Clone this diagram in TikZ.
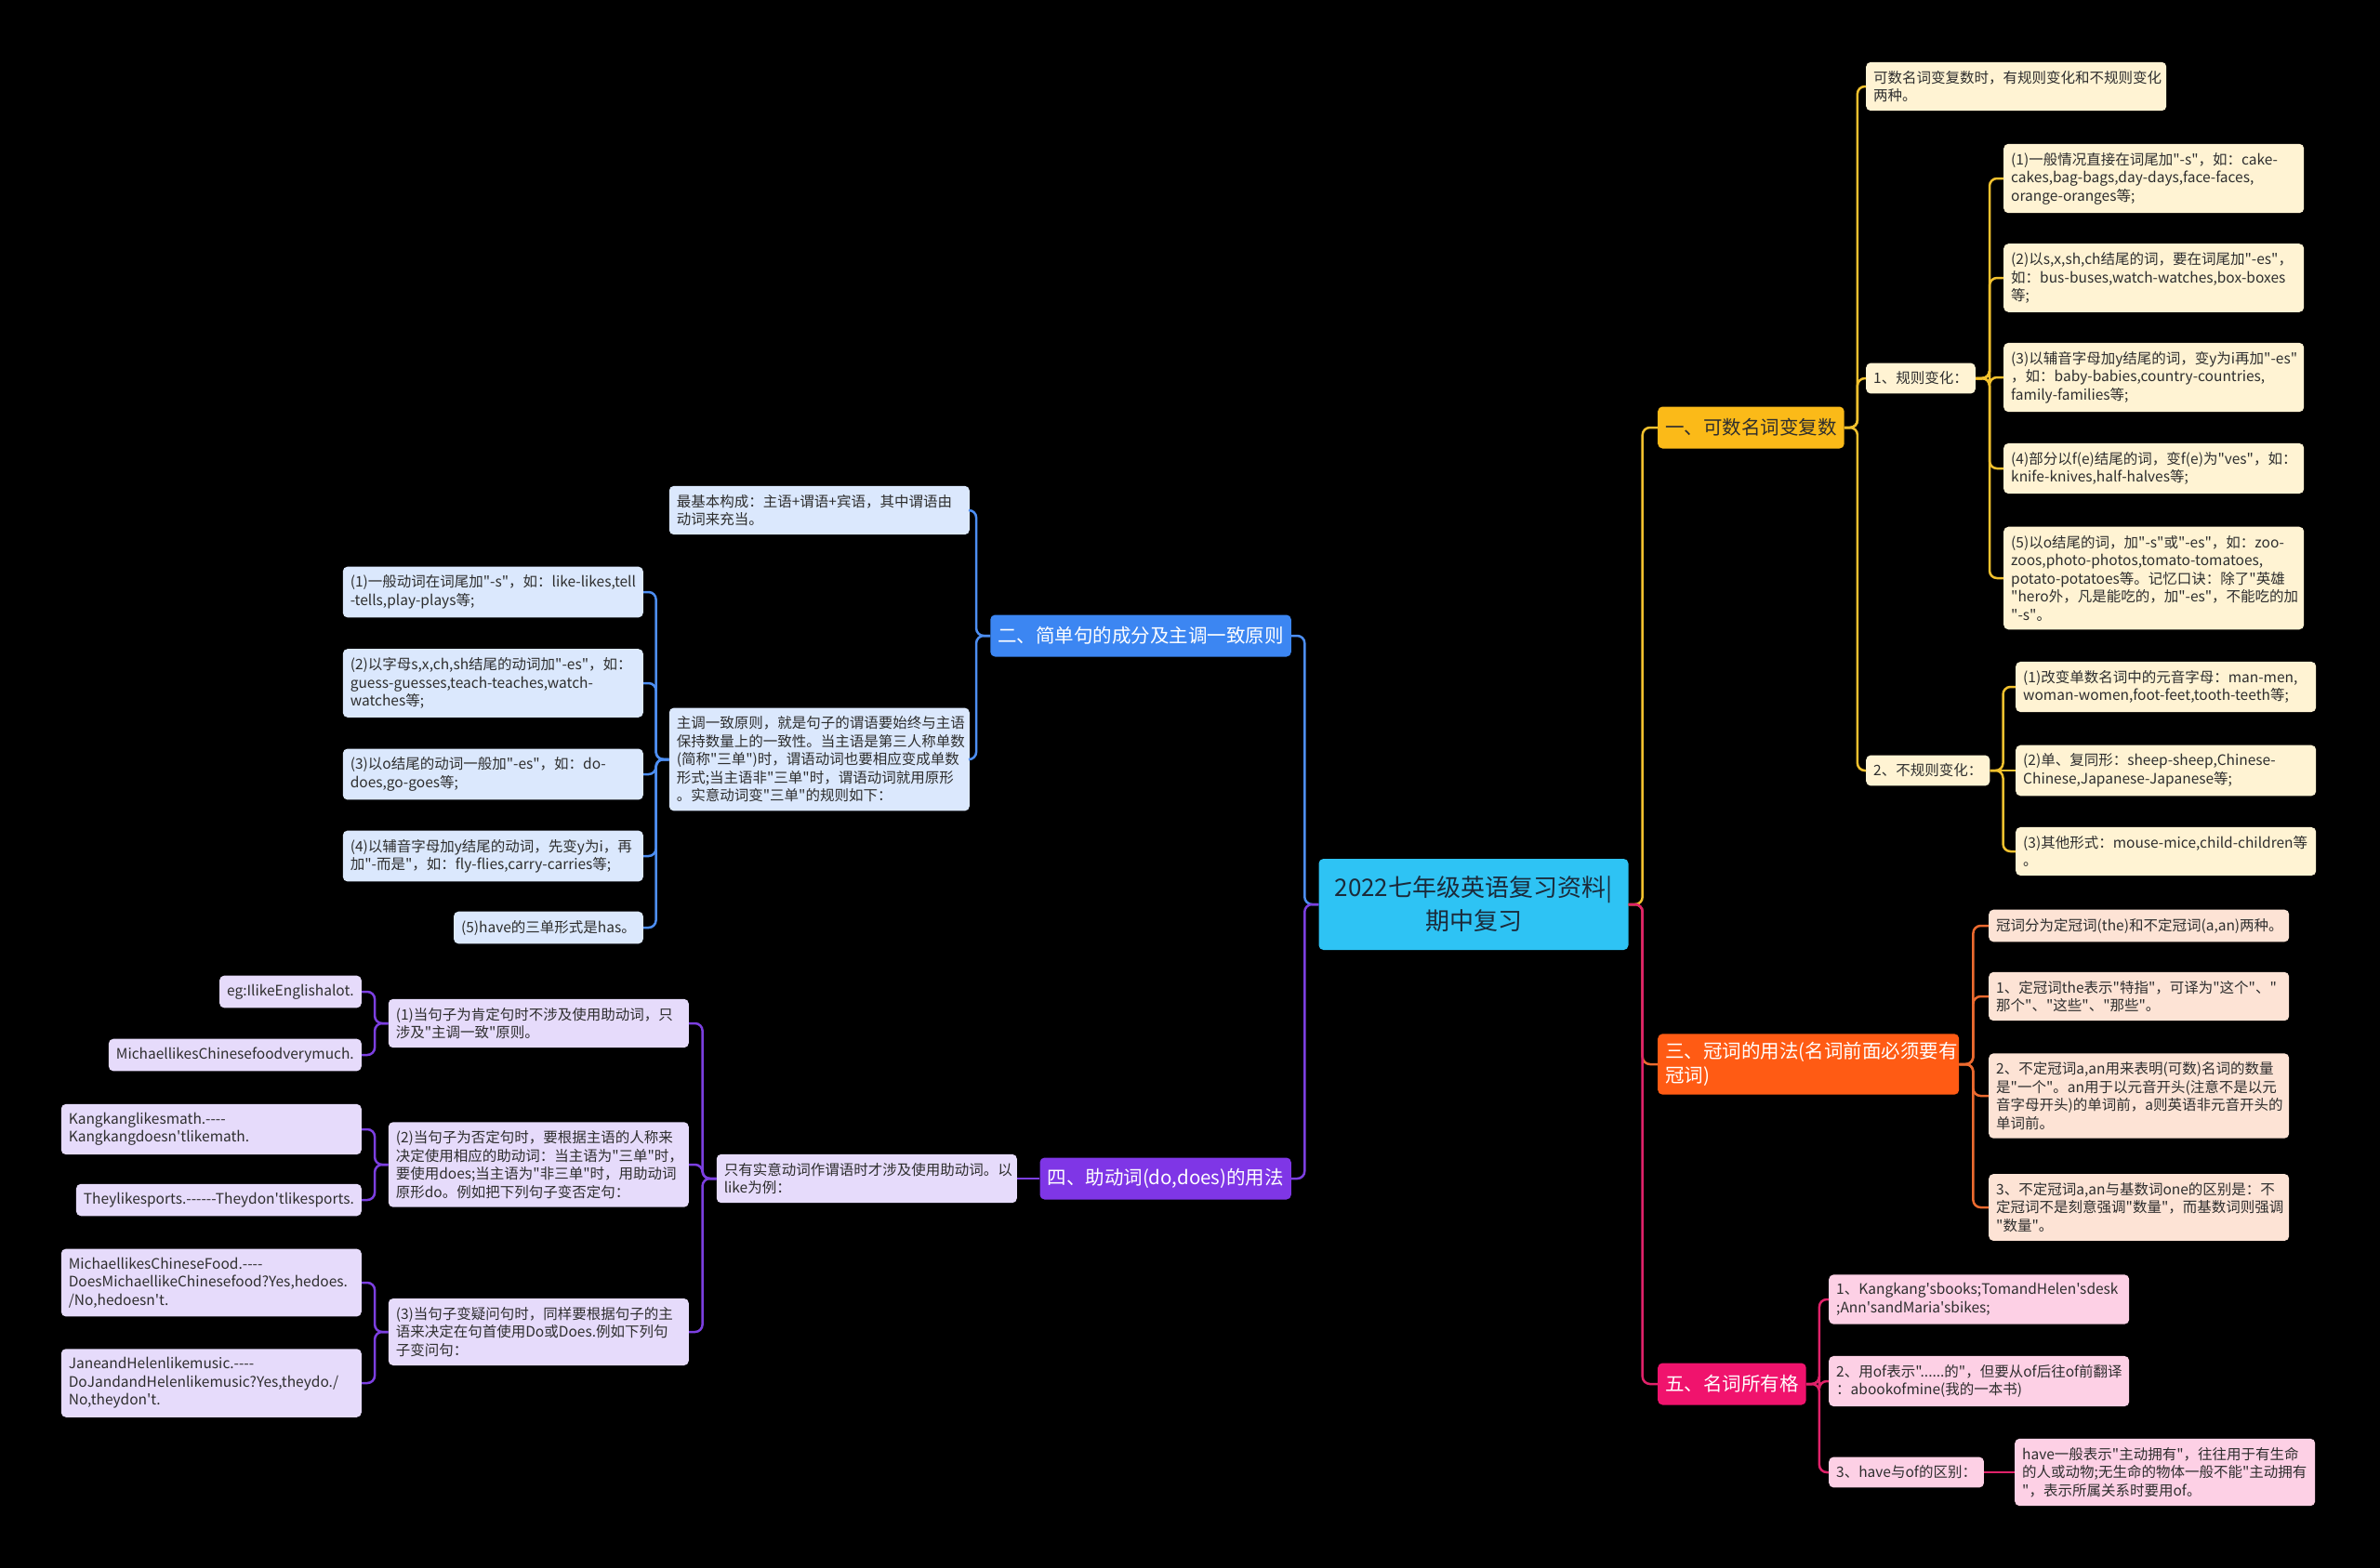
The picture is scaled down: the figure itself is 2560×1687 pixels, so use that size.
\documentclass[tikz,border=0pt]{standalone}
\usepackage{fontspec}
\newfontfamily\cnfont{Noto Sans CJK SC}
\usetikzlibrary{positioning,calc}
\exhyphenpenalty=10000
\hyphenpenalty=10000

\definecolor{rootfill}{HTML}{2EC3F4}
\definecolor{roottext}{HTML}{1B2A3A}
\definecolor{leaftext}{HTML}{2E2E2E}
\definecolor{ylLine}{HTML}{F2C12E}
\definecolor{ylHead}{HTML}{FBBA18}
\definecolor{ylLeaf}{HTML}{FFF3D3}
\definecolor{orLine}{HTML}{EC6A2F}
\definecolor{orHead}{HTML}{FF5B14}
\definecolor{orLeaf}{HTML}{FDE3D5}
\definecolor{pkLine}{HTML}{E0226A}
\definecolor{pkHead}{HTML}{F0136D}
\definecolor{pkLeaf}{HTML}{FDD0E5}
\definecolor{blLine}{HTML}{4D8EF2}
\definecolor{blHead}{HTML}{3C86F2}
\definecolor{blLeaf}{HTML}{DBE8FD}
\definecolor{vtLine}{HTML}{7C3FE0}
\definecolor{vtHead}{HTML}{7F36E6}
\definecolor{vtLeaf}{HTML}{E6DBFB}

\begin{document}
\begin{tikzpicture}[
  x=1pt, y=-1pt,
  font=\cnfont\fontsize{15.5}{19.5}\selectfont,
  root/.style ={fill=rootfill, text=roottext, rounded corners=5pt, align=center, minimum width=333pt,
                minimum height=98pt, font=\cnfont\fontsize{26}{36}\selectfont},
  head/.style ={rounded corners=5pt, inner xsep=8pt, inner ysep=9pt, minimum height=45pt, text=white,
                align=left, font=\cnfont\fontsize{20.5}{26}\selectfont},
  box/.style  ={rounded corners=5pt, inner xsep=8pt, inner ysep=9.25pt, align=left, text=leaftext},
  wide/.style ={text width=307pt},
  yleaf/.style={box, fill=ylLeaf},
  oleaf/.style={box, fill=orLeaf},
  pleaf/.style={box, fill=pkLeaf},
  bleaf/.style={box, fill=blLeaf},
  vleaf/.style={box, fill=vtLeaf},
  link/.style ={line width=2.5pt, rounded corners=8pt},
  ylink/.style={link, draw=ylLine},
  olink/.style={link, draw=orLine},
  plink/.style={link, draw=pkLine},
  blink/.style={link, draw=blLine},
  vlink/.style={link, draw=vtLine},
]
\useasboundingbox (0,0) rectangle (2560,1687);
\fill[black] (0,0) rectangle (2560,1687);

% ---------------- centre ----------------
\node[root] (root) at (1585,973) {2022七年级英语复习资料|\\期中复习};

% ---------------- 一、可数名词变复数 ----------------
\node[head, fill=ylHead, text=leaftext, anchor=west] (R1) at (1783,460) {一、可数名词变复数};
\node[yleaf, wide, anchor=west] (R1a) at (2007,93) {可数名词变复数时，有规则变化和不规则变化\\两种。};
\node[yleaf, anchor=west] (R1b) at (2007,407) {1、规则变化：};
\node[yleaf, wide, anchor=west] (R1b1) at (2155,192) {(1)一般情况直接在词尾加"-s"，如：cake-\\cakes,bag-bags,day-days,face-faces,\\orange-oranges等;};
\node[yleaf, wide, anchor=west] (R1b2) at (2155,299) {(2)以s,x,sh,ch结尾的词，要在词尾加"-es"，\\如：bus-buses,watch-watches,box-boxes\\等;};
\node[yleaf, wide, anchor=west] (R1b3) at (2155,406) {(3)以辅音字母加y结尾的词，变y为i再加"-es"\\，如：baby-babies,country-countries,\\family-families等;};
\node[yleaf, wide, anchor=west] (R1b4) at (2155,504) {(4)部分以f(e)结尾的词，变f(e)为"ves"，如：\\knife-knives,half-halves等;};
\node[yleaf, wide, anchor=west] (R1b5) at (2155,622) {(5)以o结尾的词，加"-s"或"-es"，如：zoo-\\zoos,photo-photos,tomato-tomatoes,\\potato-potatoes等。记忆口诀：除了"英雄\\"hero外，凡是能吃的，加"-es"，不能吃的加\\"-s"。};
\node[yleaf, anchor=west] (R1c) at (2007,829) {2、不规则变化：};
\node[yleaf, wide, anchor=west] (R1c1) at (2168,739) {(1)改变单数名词中的元音字母：man-men,\\woman-women,foot-feet,tooth-teeth等;};
\node[yleaf, wide, anchor=west] (R1c2) at (2168,829) {(2)单、复同形：sheep-sheep,Chinese-\\Chinese,Japanese-Japanese等;};
\node[yleaf, wide, anchor=west] (R1c3) at (2168,916) {(3)其他形式：mouse-mice,child-children等\\。};

% ---------------- 三、冠词的用法 ----------------
\node[head, fill=orHead, text width=308pt, anchor=west] (R2) at (1783,1145) {三、冠词的用法(名词前面必须要有\\冠词)};
\node[oleaf, wide, anchor=west] (R2a) at (2139,996) {冠词分为定冠词(the)和不定冠词(a,an)两种。};
\node[oleaf, wide, anchor=west] (R2b) at (2139,1072) {1、定冠词the表示"特指"，可译为"这个"、"\\那个"、"这些"、"那些"。};
\node[oleaf, wide, anchor=west] (R2c) at (2139,1179) {2、不定冠词a,an用来表明(可数)名词的数量\\是"一个"。an用于以元音开头(注意不是以元\\音字母开头)的单词前，a则英语非元音开头的\\单词前。};
\node[oleaf, wide, anchor=west] (R2d) at (2139,1299) {3、不定冠词a,an与基数词one的区别是：不\\定冠词不是刻意强调"数量"，而基数词则强调\\"数量"。};

% ---------------- 五、名词所有格 ----------------
\node[head, fill=pkHead, anchor=west] (R3) at (1783,1489) {五、名词所有格};
\node[pleaf, wide, anchor=west] (R3a) at (1967,1398) {1、Kangkang'sbooks;TomandHelen'sdesk\\;Ann'sandMaria'sbikes;};
\node[pleaf, wide, anchor=west] (R3b) at (1967,1486) {2、用of表示"......的"，但要从of后往of前翻译\\：abookofmine(我的一本书)};
\node[pleaf, anchor=west] (R3c) at (1967,1584) {3、have与of的区别：};
\node[pleaf, wide, anchor=west] (R3d) at (2167,1584) {have一般表示"主动拥有"，往往用于有生命\\的人或动物;无生命的物体一般不能"主动拥有\\"，表示所属关系时要用of。};

% ---------------- 二、简单句的成分及主调一致原则 ----------------
\node[head, fill=blHead, anchor=east] (L1) at (1389,684) {二、简单句的成分及主调一致原则};
\node[bleaf, wide, anchor=east] (L1a) at (1043,549) {最基本构成：主语+谓语+宾语，其中谓语由\\动词来充当。};
\node[bleaf, wide, anchor=east] (L1b) at (1043,817) {主调一致原则，就是句子的谓语要始终与主语\\保持数量上的一致性。当主语是第三人称单数\\(简称"三单")时，谓语动词也要相应变成单数\\形式;当主语非"三单"时，谓语动词就用原形\\。实意动词变"三单"的规则如下：};
\node[bleaf, wide, anchor=east] (L1b1) at (692,637) {(1)一般动词在词尾加"-s"，如：like-likes,tell\\-tells,play-plays等;};
\node[bleaf, wide, anchor=east] (L1b2) at (692,735) {(2)以字母s,x,ch,sh结尾的动词加"-es"，如：\\guess-guesses,teach-teaches,watch-\\watches等;};
\node[bleaf, wide, anchor=east] (L1b3) at (692,833) {(3)以o结尾的动词一般加"-es"，如：do-\\does,go-goes等;};
\node[bleaf, wide, anchor=east] (L1b4) at (692,921) {(4)以辅音字母加y结尾的动词，先变y为i，再\\加"-而是"，如：fly-flies,carry-carries等;};
\node[bleaf, anchor=east] (L1b5) at (692,998) {(5)have的三单形式是has。};

% ---------------- 四、助动词(do,does)的用法 ----------------
\node[head, fill=vtHead, anchor=east] (L2) at (1389,1268) {四、助动词(do,does)的用法};
\node[vleaf, wide, anchor=east] (L2a) at (1094,1268) {只有实意动词作谓语时才涉及使用助动词。以\\like为例：};
\node[vleaf, wide, anchor=east] (L2a1) at (741,1101) {(1)当句子为肯定句时不涉及使用助动词，只\\涉及"主调一致"原则。};
\node[vleaf, anchor=east] (L2a1a) at (389,1067) {eg:IlikeEnglishalot.};
\node[vleaf, anchor=east] (L2a1b) at (389,1135) {MichaellikesChinesefoodverymuch.};
\node[vleaf, wide, anchor=east] (L2a2) at (741,1253) {(2)当句子为否定句时，要根据主语的人称来\\决定使用相应的助动词：当主语为"三单"时，\\要使用does;当主语为"非三单"时，用助动词\\原形do。例如把下列句子变否定句：};
\node[vleaf, wide, anchor=east] (L2a2a) at (389,1215) {Kangkanglikesmath.-{}-{}-{}-\\Kangkangdoesn'tlikemath.};
\node[vleaf, anchor=east] (L2a2b) at (389,1291) {Theylikesports.-{}-{}-{}-{}-{}-Theydon'tlikesports.};
\node[vleaf, wide, anchor=east] (L2a3) at (741,1433) {(3)当句子变疑问句时，同样要根据句子的主\\语来决定在句首使用Do或Does.例如下列句\\子变问句：};
\node[vleaf, wide, anchor=east] (L2a3a) at (389,1380) {MichaellikesChineseFood.-{}-{}-{}-\\DoesMichaellikeChinesefood?Yes,hedoes.\\/No,hedoesn't.};
\node[vleaf, wide, anchor=east] (L2a3b) at (389,1488) {JaneandHelenlikemusic.-{}-{}-{}-\\DoJandandHelenlikemusic?Yes,theydo./\\No,theydon't.};

% ---------------- connectors ----------------
\draw[ylink] (root.east) -- ++(15,0) |- (R1.west);
\draw[olink] (root.east) -- ++(15,0) |- (R2.west);
\draw[plink] (root.east) -- ++(15,0) |- (R3.west);
\draw[blink] (root.west) -- ++(-15,0) |- (L1.east);
\draw[vlink] (root.west) -- ++(-15,0) |- (L2.east);

\draw[ylink] (R1.east) -- ++(14,0) |- (R1a.west);
\draw[ylink] (R1.east) -- ++(14,0) |- (R1b.west);
\draw[ylink] (R1.east) -- ++(14,0) |- (R1c.west);
\draw[ylink] (R1b.east) -- ++(15,0) |- (R1b1.west);
\draw[ylink] (R1b.east) -- ++(15,0) |- (R1b2.west);
\draw[ylink] (R1b.east) -- ++(15,0) |- (R1b3.west);
\draw[ylink] (R1b.east) -- ++(15,0) |- (R1b4.west);
\draw[ylink] (R1b.east) -- ++(15,0) |- (R1b5.west);
\draw[ylink] (R1c.east) -- ++(14,0) |- (R1c1.west);
\draw[ylink] (R1c.east) -- (R1c2.west);
\draw[ylink] (R1c.east) -- ++(14,0) |- (R1c3.west);

\draw[olink] (R2.east) -- ++(15,0) |- (R2a.west);
\draw[olink] (R2.east) -- ++(15,0) |- (R2b.west);
\draw[olink] (R2.east) -- ++(15,0) |- (R2c.west);
\draw[olink] (R2.east) -- ++(15,0) |- (R2d.west);

\draw[plink] (R3.east) -- ++(14,0) |- (R3a.west);
\draw[plink] (R3.east) -- ++(14,0) |- (R3b.west);
\draw[plink] (R3.east) -- ++(14,0) |- (R3c.west);
\draw[plink] (R3c.east) -- (R3d.west);

\draw[blink] (L1.west) -- ++(-15,0) |- (L1a.east);
\draw[blink] (L1.west) -- ++(-15,0) |- (L1b.east);
\draw[blink] (L1b.west) -- ++(-14,0) |- (L1b1.east);
\draw[blink] (L1b.west) -- ++(-14,0) |- (L1b2.east);
\draw[blink] (L1b.west) -- ++(-14,0) |- (L1b3.east);
\draw[blink] (L1b.west) -- ++(-14,0) |- (L1b4.east);
\draw[blink] (L1b.west) -- ++(-14,0) |- (L1b5.east);

\draw[vlink] (L2.west) -- (L2a.east);
\draw[vlink] (L2a.west) -- ++(-15,0) |- (L2a1.east);
\draw[vlink] (L2a.west) -- ++(-15,0) |- (L2a2.east);
\draw[vlink] (L2a.west) -- ++(-15,0) |- (L2a3.east);
\draw[vlink] (L2a1.west) -- ++(-14.5,0) |- (L2a1a.east);
\draw[vlink] (L2a1.west) -- ++(-14.5,0) |- (L2a1b.east);
\draw[vlink] (L2a2.west) -- ++(-14.5,0) |- (L2a2a.east);
\draw[vlink] (L2a2.west) -- ++(-14.5,0) |- (L2a2b.east);
\draw[vlink] (L2a3.west) -- ++(-14.5,0) |- (L2a3a.east);
\draw[vlink] (L2a3.west) -- ++(-14.5,0) |- (L2a3b.east);
\end{tikzpicture}
\end{document}
